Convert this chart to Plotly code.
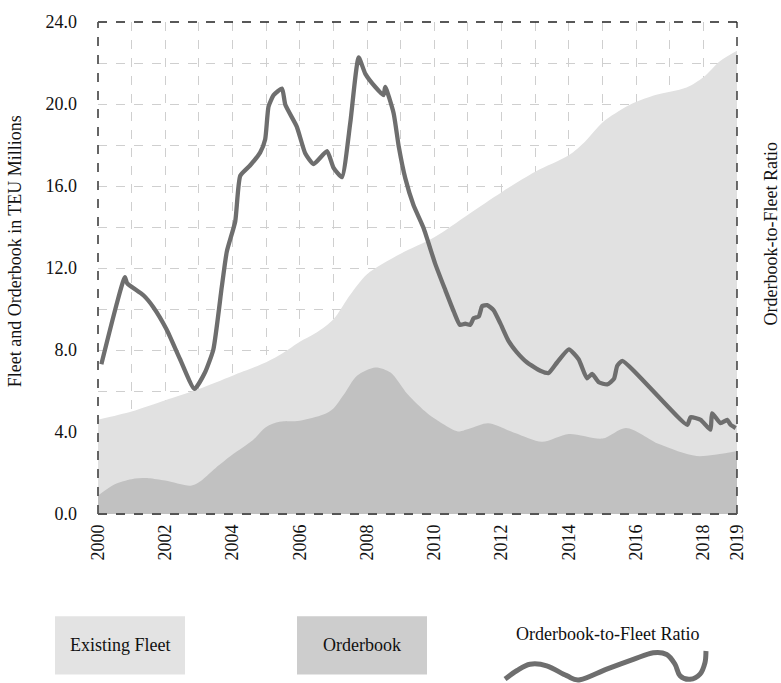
import plotly.graph_objects as go

# ---------------- data ----------------
fleet_years = [2000, 2001, 2002, 2003, 2004, 2005, 2005.5, 2006, 2006.5, 2007, 2007.5, 2008,
               2009, 2010, 2011, 2012, 2013, 2014, 2014.5, 2015, 2015.8, 2016.5, 2017.5,
               2018, 2018.5, 2019]
fleet = [4.6, 5.0, 5.55, 6.1, 6.75, 7.4, 7.85, 8.4, 8.85, 9.5, 10.7, 11.7,
         12.7, 13.5, 14.6, 15.7, 16.7, 17.5, 18.2, 19.1, 19.95, 20.4, 20.8,
         21.3, 22.1, 22.6]

orderbook_years = [2000, 2000.5, 2001, 2001.5, 2002, 2002.75, 2003, 2003.5, 2004, 2004.6,
                   2005, 2005.4, 2006, 2006.7, 2007, 2007.3, 2007.7, 2008.25, 2008.7,
                   2009.2, 2009.8, 2010.3, 2010.7, 2011.1, 2011.6, 2012.4, 2013.2, 2014,
                   2015, 2015.7, 2016.7, 2017.8, 2019]
orderbook = [0.9, 1.45, 1.7, 1.75, 1.63, 1.38, 1.55, 2.25, 2.9, 3.6,
             4.25, 4.5, 4.55, 4.85, 5.15, 5.8, 6.75, 7.15, 6.9,
             5.85, 4.9, 4.35, 4.03, 4.2, 4.43, 3.95, 3.52, 3.9,
             3.68, 4.2, 3.4, 2.83, 3.07]

ratio_years = [2000.1, 2000.8, 2000.87, 2001.35, 2001.64, 2002.04, 2002.44, 2002.87, 2003.18,
               2003.43, 2003.68, 2003.83, 2004.08, 2004.23, 2004.52, 2004.82, 2004.97,
               2005.07, 2005.22, 2005.47, 2005.57, 2005.91, 2006.16, 2006.41, 2006.81,
               2007.0, 2007.25, 2007.5, 2007.75, 2007.95, 2008.24, 2008.49, 2008.54,
               2008.79, 2008.94, 2009.14, 2009.38, 2009.68, 2010.03, 2010.33, 2010.58,
               2010.76, 2010.92, 2011.07, 2011.17, 2011.32, 2011.37, 2011.42, 2011.57,
               2011.76, 2011.96, 2012.21, 2012.45, 2012.76, 2013.15, 2013.4, 2013.65,
               2014.0, 2014.29, 2014.54, 2014.69, 2014.89, 2015.14, 2015.34, 2015.44,
               2015.59, 2017.52, 2017.62, 2017.92, 2018.21, 2018.26, 2018.51, 2018.71,
               2018.81, 2018.96]
ratio = [7.3, 11.55, 11.25, 10.67, 10.1, 9.0, 7.55, 6.1, 6.9,
         8.03, 11.07, 12.8, 14.27, 16.5, 17.0, 17.63, 18.27,
         19.87, 20.43, 20.75, 19.96, 18.9, 17.6, 17.07, 17.7,
         16.9, 16.43, 19.07, 22.27, 21.47, 20.84, 20.43, 20.84,
         19.55, 17.95, 16.36, 15.07, 13.95, 12.19, 10.91, 9.87,
         9.23, 9.28, 9.23, 9.55, 9.63, 9.87, 10.14, 10.19,
         9.95, 9.31, 8.43, 7.9, 7.39, 6.99, 6.88, 7.39,
         8.03, 7.55, 6.62, 6.83, 6.43, 6.32, 6.59, 7.23,
         7.47, 4.35, 4.72, 4.59, 4.11, 4.91, 4.43, 4.59,
         4.35, 4.19]

x_ticks = [2000, 2002, 2004, 2006, 2008, 2010, 2012, 2014, 2016, 2018, 2019]
y_ticks = [0, 4, 8, 12, 16, 20, 24]
y_tick_labels = ["0.0", "4.0", "8.0", "12.0", "16.0", "20.0", "24.0"]

# ---------------- layout geometry (pixels) ----------------
W, H = 781, 683
L, R, T, B = 98, 737, 14, 514
FONT = "Liberation Serif"
FS = 18


def px(x):
    return (x - L) / (R - L)


def py(y):
    return (B - y) / (B - T)


fig = go.Figure()
fig.add_trace(go.Scatter(x=fleet_years, y=fleet, mode="lines", fill="tozeroy",
                         line=dict(width=0, shape="spline", smoothing=0.8),
                         fillcolor="#e1e1e1", hoverinfo="skip", showlegend=False))
fig.add_trace(go.Scatter(x=orderbook_years, y=orderbook, mode="lines", fill="tozeroy",
                         line=dict(width=0, shape="spline", smoothing=0.8),
                         fillcolor="#c1c1c1", hoverinfo="skip", showlegend=False))
fig.add_trace(go.Scatter(x=ratio_years, y=ratio, mode="lines",
                         line=dict(width=4.3, color="#6e6e6e", shape="spline", smoothing=0.5),
                         showlegend=False))

grid = dict(showgrid=True, gridcolor="#cfcfcf", griddash="dash", gridwidth=1)

fig.update_xaxes(range=[2000, 2019], tickvals=x_ticks, ticktext=[str(v) for v in x_ticks],
                 tickangle=-90, zeroline=False, showline=False, ticks="",
                 ticklabelstandoff=6,
                 tickfont=dict(family=FONT, size=FS, color="#111"),
                 minor=dict(dtick=1, tick0=2000, showgrid=True, gridcolor="#cfcfcf",
                            griddash="dash", gridwidth=1),
                 **grid)
fig.update_yaxes(range=[0, 24], tickvals=y_ticks, ticktext=y_tick_labels,
                 zeroline=False, showline=False, ticks="", ticklabelstandoff=20,
                 tickfont=dict(family=FONT, size=FS, color="#111"),
                 minor=dict(dtick=2, tick0=0, showgrid=True, gridcolor="#cfcfcf",
                            griddash="dash", gridwidth=1),
                 **grid)

shapes = [
    dict(type="line", xref="paper", yref="paper", x0=0, x1=1, y0=1, y1=1,
         line=dict(color="#222", width=1.3, dash="dash"), layer="above"),
    dict(type="line", xref="paper", yref="paper", x0=1, x1=1, y0=0, y1=1,
         line=dict(color="#222", width=1.3, dash="dash"), layer="above"),
    dict(type="line", xref="paper", yref="paper", x0=0, x1=0, y0=0, y1=1,
         line=dict(color="#555", width=1.8, dash="dash"), layer="above"),
    dict(type="line", xref="paper", yref="paper", x0=0, x1=1, y0=0, y1=0,
         line=dict(color="#555", width=1.8, dash="dash"), layer="above"),
    # legend boxes
    dict(type="rect", xref="paper", yref="paper", x0=px(55), x1=px(185), y0=py(677), y1=py(618),
         fillcolor="#e3e3e3", line=dict(width=0)),
    dict(type="rect", xref="paper", yref="paper", x0=px(297), x1=px(427), y0=py(677), y1=py(618),
         fillcolor="#cdcdcd", line=dict(width=0)),
]

# squiggle for the ratio legend
sq = [(505, 681.7), (516.7, 673.3), (530, 666.7), (546.7, 668.3), (566.7, 678.3),
      (580, 682.5), (606.7, 671.7), (633.3, 661.7), (653.3, 655), (666.7, 656.7),
      (675, 666.7), (680, 678.3), (690, 682), (700, 676.7), (705, 665), (706, 653.3)]
pts = [(px(a), py(b)) for a, b in sq]
path = "M %.5f,%.5f" % pts[0]
for i in range(len(pts) - 1):
    p0 = pts[i - 1] if i > 0 else pts[i]
    p1 = pts[i]
    p2 = pts[i + 1]
    p3 = pts[i + 2] if i + 2 < len(pts) else pts[i + 1]
    c1 = (p1[0] + (p2[0] - p0[0]) / 6, p1[1] + (p2[1] - p0[1]) / 6)
    c2 = (p2[0] - (p3[0] - p1[0]) / 6, p2[1] - (p3[1] - p1[1]) / 6)
    path += " C %.5f,%.5f %.5f,%.5f %.5f,%.5f" % (c1 + c2 + p2)
shapes.append(dict(type="path", xref="paper", yref="paper", path=path,
                   line=dict(color="#6e6e6e", width=5)))


def label(text, x, y, angle=0, size=FS):
    return dict(text=text, xref="paper", yref="paper", x=px(x), y=py(y), textangle=angle,
                showarrow=False, xanchor="center", yanchor="middle",
                font=dict(family=FONT, size=size, color="#111"))


annotations = [
    label("Fleet and Orderbook in TEU Millions", 15, 247, -90),
    label("Orderbook-to-Fleet Ratio", 771, 230, -90),
    label("Existing Fleet", 120, 647),
    label("Orderbook", 362, 647),
    label("Orderbook-to-Fleet Ratio", 607, 636),
]

fig.update_layout(width=W, height=H, autosize=False,
                  margin=dict(l=L, r=W - R, t=T, b=H - B, pad=0),
                  plot_bgcolor="white", paper_bgcolor="white",
                  shapes=shapes, annotations=annotations,
                  font=dict(family=FONT, size=FS, color="#111"))

fig.write_html("out.html", config={"displayModeBar": False},
               post_script="document.body.style.margin='0';document.body.style.padding='0';"
                           "document.body.style.overflow='hidden';")
